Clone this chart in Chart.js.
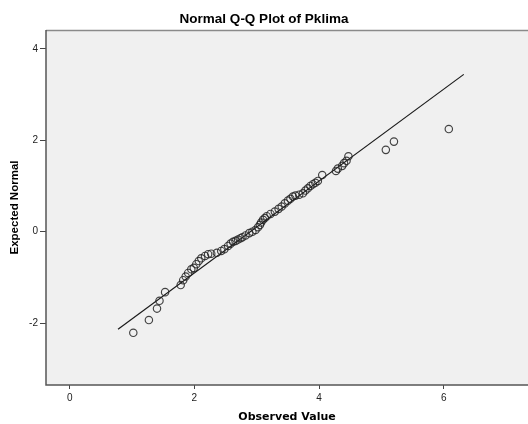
<!DOCTYPE html>
<html>
<head>
<meta charset="utf-8">
<script src="https://cdn.jsdelivr.net/npm/chart.js@4.4.1/dist/chart.umd.min.js"></script>
<style>
html,body{margin:0;padding:0;background:#fff;}
#wrap{width:528px;height:424px;}
</style>
</head>
<body>
<div id="wrap"><canvas id="c" width="528" height="424"></canvas></div>
<script>
const observed = [1.02,1.27,1.40,1.44,1.53,1.78,1.82,1.86,1.90,1.95,1.99,2.03,2.07,2.11,2.17,2.22,2.27,2.36,2.43,2.48,2.54,2.58,2.62,2.66,2.70,2.74,2.77,2.82,2.88,2.93,2.98,3.02,3.05,3.07,3.10,3.13,3.16,3.22,3.29,3.35,3.40,3.45,3.50,3.54,3.58,3.62,3.68,3.74,3.78,3.82,3.86,3.90,3.94,3.98,4.05,4.27,4.30,4.37,4.40,4.44,4.47,5.07,5.20,6.08];
const expected = [-2.21,-1.93,-1.68,-1.51,-1.32,-1.165,-1.06,-0.98,-0.90,-0.82,-0.79,-0.71,-0.64,-0.58,-0.53,-0.49,-0.48,-0.46,-0.42,-0.38,-0.31,-0.26,-0.22,-0.20,-0.17,-0.14,-0.12,-0.08,-0.03,0.00,0.04,0.10,0.15,0.20,0.26,0.30,0.34,0.39,0.44,0.50,0.55,0.62,0.68,0.72,0.77,0.79,0.81,0.84,0.90,0.95,1.00,1.04,1.07,1.11,1.24,1.33,1.38,1.44,1.50,1.55,1.65,1.79,1.97,2.245];
// Reference line endpoints
const lineX = [0.775, 6.32];
const lineY = [-2.13, 3.44];
// Tick labels
const xTicks = [0, 2, 4, 6];
const yTicks = [-2, 0, 2, 4];

const points = observed.map((x, i) => ({x: x, y: expected[i]}));
const linePts = lineX.map((x, i) => ({x: x, y: lineY[i]}));

const frame = {
  id: 'frame',
  beforeDatasetsDraw(chart) {
    const {ctx, chartArea: a} = chart;
    ctx.save();
    ctx.fillStyle = '#f0f0f0';
    ctx.fillRect(a.left, a.top, a.right - a.left, a.bottom - a.top);
    ctx.restore();
  },
  afterDraw(chart) {
    const {ctx, chartArea: a} = chart;
    ctx.save();
    ctx.lineWidth = 1.5;
    ctx.strokeStyle = '#8a8a8a';
    ctx.beginPath();
    ctx.moveTo(a.left, a.top + 0.5);
    ctx.lineTo(a.right, a.top + 0.5);
    ctx.stroke();
    ctx.strokeStyle = '#555';
    ctx.beginPath();
    ctx.moveTo(a.left, a.top);
    ctx.lineTo(a.left, a.bottom);
    ctx.lineTo(a.right, a.bottom);
    ctx.stroke();
    ctx.restore();
  }
};

new Chart(document.getElementById('c'), {
  type: 'scatter',
  data: {
    datasets: [
      {
        type: 'line',
        data: linePts,
        borderColor: '#1a1a1a',
        borderWidth: 1.2,
        pointRadius: 0,
        pointHoverRadius: 0,
        fill: false,
        order: 2
      },
      {
        type: 'scatter',
        data: points,
        pointStyle: 'circle',
        pointRadius: 3.7,
        pointHoverRadius: 3.7,
        borderColor: 'rgba(35,35,35,0.85)',
        borderWidth: 1.15,
        backgroundColor: 'rgba(0,0,0,0)',
        order: 1
      }
    ]
  },
  options: {
    responsive: false,
    animation: false,
    devicePixelRatio: 1,
    layout: {padding: 0, autoPadding: false},
    plugins: {
      legend: {display: false},
      tooltip: {enabled: false},
      title: {
        display: true,
        text: 'Normal Q-Q Plot of Pklima',
        color: '#000',
        font: {family: 'Liberation Sans, Arial, sans-serif', size: 13.5, weight: 'bold', lineHeight: 1.2},
        padding: {top: 11, bottom: 2.8}
      }
    },
    scales: {
      x: {
        type: 'linear',
        min: -0.38,
        max: 7.35,
        afterBuildTicks(s) { s.ticks = xTicks.map(v => ({value: v})); },
        afterFit(s) { s.height = 39; s.paddingRight = 0; s.paddingLeft = 0; },
        grid: {display: true, drawOnChartArea: false, drawTicks: true, tickLength: 4, tickColor: '#444', lineWidth: 1},
        border: {display: false},
        ticks: {color: '#222', font: {family: 'Liberation Sans, Arial, sans-serif', size: 10}, padding: 3, maxRotation: 0},
        title: {
          display: true,
          text: 'Observed Value',
          color: '#000',
          font: {family: 'DejaVu Sans, sans-serif', size: 11, weight: 'bold', lineHeight: 1.2},
          padding: {top: 0, bottom: 0}
        }
      },
      y: {
        type: 'linear',
        min: -3.35,
        max: 4.41,
        afterBuildTicks(s) { s.ticks = yTicks.map(v => ({value: v})); },
        afterFit(s) { s.width = 46; s.paddingTop = 0; s.paddingBottom = 0; },
        grid: {display: true, drawOnChartArea: false, drawTicks: true, tickLength: 6, tickColor: '#444', lineWidth: 1},
        border: {display: false},
        ticks: {color: '#222', font: {family: 'Liberation Sans, Arial, sans-serif', size: 10}, padding: 2},
        title: {
          display: true,
          text: 'Expected Normal',
          color: '#000',
          font: {family: 'Liberation Sans, Arial, sans-serif', size: 11.5, weight: 'bold', lineHeight: 1.2},
          padding: {top: 8, bottom: 0}
        }
      }
    }
  },
  plugins: [frame]
});
</script>
</body>
</html>
